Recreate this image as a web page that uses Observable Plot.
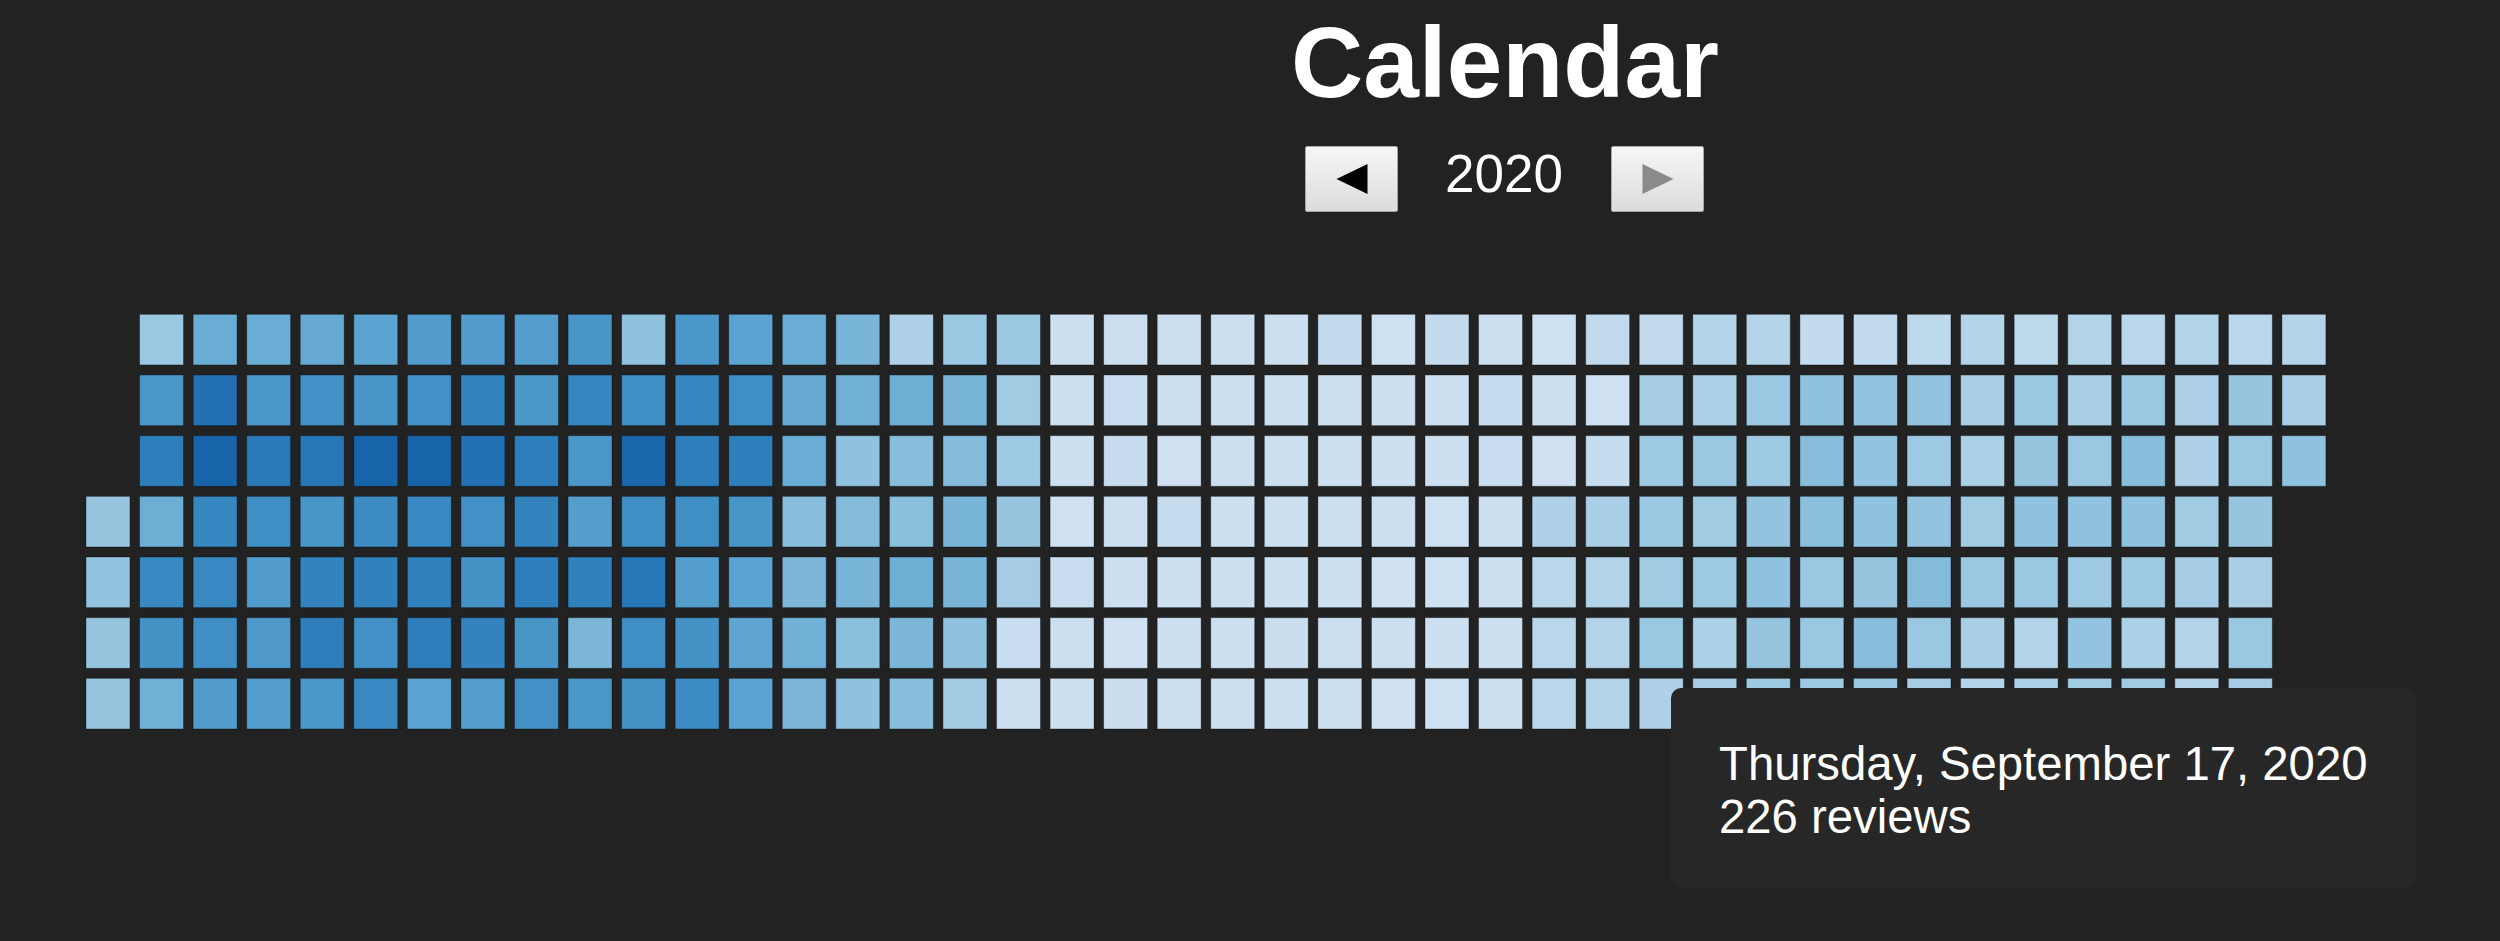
<!DOCTYPE html>
<html>
<head>
<meta charset="utf-8">
<script src="https://cdn.jsdelivr.net/npm/d3@7"></script>
<script src="https://cdn.jsdelivr.net/npm/@observablehq/plot@0.6"></script>
<style>
  html, body { margin: 0; padding: 0; background: #222222; overflow: hidden; }
  body { width: 2500px; height: 941px; position: relative; font-family: "Liberation Sans", Arial, sans-serif; }
  #header { position: relative; height: 240px; }
  #title { position: absolute; left: 1505px; top: 12px; transform: translateX(-50%); font-size: 100px; line-height: 1; font-weight: bold; color: #fff; white-space: nowrap; }
  #year { position: absolute; left: 1504px; top: 147px; transform: translateX(-50%); font-size: 53px; line-height: 1; color: #fff; white-space: nowrap; }
  .btn { position: absolute; top: 146px; width: 93px; height: 66px; box-sizing: border-box; border: 1px solid #a8a8a8; border-radius: 2px; background: linear-gradient(#f6f6f6, #dcdcdc); }
  #prev { left: 1305px; }
  #next { left: 1611px; }
  .tri { position: absolute; left: 50%; top: 50%; width: 0; height: 0; border-top: 15px solid transparent; border-bottom: 15px solid transparent; transform: translate(-50%, -50%); }
  #prev .tri { border-right: 31px solid #000; }
  #next .tri { border-left: 31px solid #8a8a8a; }
  #tip { position: absolute; left: 1671px; top: 688px; width: 745px; height: 200px; box-sizing: border-box; padding: 49px 0 0 48px; background: #272727; border-radius: 10px; color: #fff; font-size: 47.3px; line-height: 53px; white-space: nowrap; }
</style>
</head>
<body>
<div id="header">
  <div id="title">Calendar</div>
  <div class="btn" id="prev"><div class="tri"></div></div>
  <div id="year">2020</div>
  <div class="btn" id="next"><div class="tri"></div></div>
</div>
<div id="chart"></div>
<div id="tip"><div>Thursday, September 17, 2020</div><div>226 reviews</div></div>
<script>
// Daily review counts, 2020
const year = 2020;
const jan = [238,244,238,238, 232,366,427,305,403,378,299, 311,457,488,409,403,390,354, 311,366,439,390,354,360,348, 317,384,445,372,415,427];
const feb = [366, 335,372,488,397,421,384,403, 354,384,488,403,421,427,335, 354,415,457,384,378,415,348, 348,366,427,415,427,372,384];
const mar = [372,409,366,348,421,280,366, 250,390,482,390,445,390,378, 366,409,427,390,348,378,397, 335,390,427,372,335,329,335, 311,317,311];
const apr = [262,280,299,280, 287,299,250,268,287,256,250, 195,305,262,256,305,280,262, 232,287,268,287,287,250,220, 232,220,226,238,214];
const may = [140,134, 134,134,128,122,140,134,134, 134,140,143,134,128,122,137, 134,128,122,146,128,128,134, 134,128,131,128,131,128,131, 128];
const jun = [128,131,131,128,137,131, 150,131,128,131,128,131,128, 125,128,128,131,122,134,122, 150,128,128,125,125,128,125, 128,146,140];
const jul = [134,131,128,128, 125,128,122,195,171,174,171, 159,122,146,207,189,186,186, 159,214,226,232,220,232,195, 189,201,232,220,226,201];
const aug = [207, 183,232,226,244,250,238,226, 153,250,262,256,232,232,226, 153,244,244,250,238,262,232, 165,244,226,244,268,232,214, 189,207];
const sep = [201,220,232,207,183, 165,232,238,250,232,189,201, 189,207,232,250,226,244,220, 171,232,262,250,226,201,220, 189,198,195,220];
const oct = [214,186,183, 171,238,232,238,207,232,214, 183,207,250];
const colorMax = 610;

const months = [jan, feb, mar, apr, may, jun, jul, aug, sep, oct];
const data = months.flatMap((vals, m) => vals.map((v, i) => {
  const date = new Date(Date.UTC(year, m, i + 1));
  return {date, value: v, week: d3.utcSunday.count(d3.utcYear(date), date), day: date.getUTCDay()};
}));
const nWeeks = d3.max(data, d => d.week) + 1;

const chart = Plot.plot({
  width: 2500,
  height: 701,
  marginLeft: 81.2,
  marginRight: 169.3,
  marginTop: 69.3,
  marginBottom: 207,
  style: {background: "#222222", overflow: "visible"},
  x: {type: "band", domain: d3.range(nWeeks), padding: 0, round: false, axis: null},
  y: {type: "band", domain: d3.range(7), padding: 0, round: false, axis: null},
  color: {type: "linear", domain: [0, colorMax], scheme: "blues"},
  marks: [
    Plot.cell(data, {
      x: "week", y: "day", fill: "value",
      insetLeft: 4.8, insetRight: 4.8, insetTop: 5, insetBottom: 5,
      stroke: "#000", strokeOpacity: 0.35, strokeWidth: 1
    })
  ]
});
document.getElementById("chart").appendChild(chart);
</script>
</body>
</html>
